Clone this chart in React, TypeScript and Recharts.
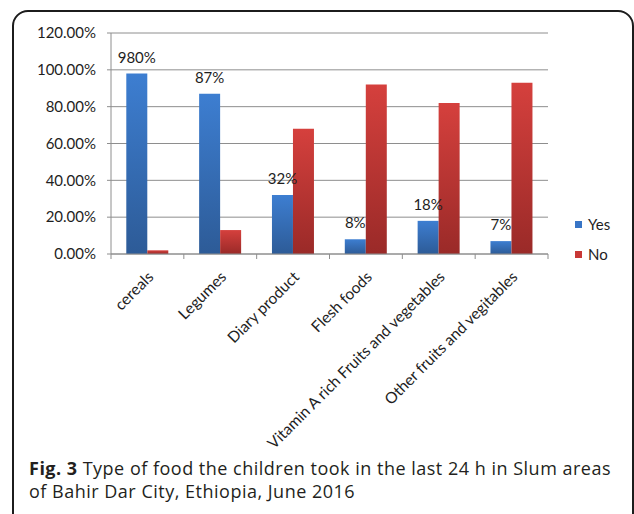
import React from 'react';
import { BarChart, Bar, XAxis, YAxis, CartesianGrid, LabelList } from 'recharts';

// food groups and share of children (%) who took them in the last 24 h
const categories = [
  'cereals',
  'Legumes',
  'Diary product',
  'Flesh foods',
  'Vitamin A rich Fruits and vegetables',
  'Other fruits and vegitables',
];
const yesValues = [98, 87, 32, 8, 18, 7];
const noValues = [2, 13, 68, 92, 82, 93];
// labels as printed in the figure (the first one really reads 980%)
const yesLabels = ['980%', '87%', '32%', '8%', '18%', '7%'];
const yTicks = [0, 20, 40, 60, 80, 100, 120];

const legendItems = [
  { name: 'Yes', color: '#3875C6' },
  { name: 'No', color: '#C83836' },
];

const captionLines = [
  'Type of food the children took in the last 24 h in Slum areas',
  'of Bahir Dar City, Ethiopia, June 2016',
];

const data = categories.map((name, i) => ({
  name,
  yes: yesValues[i],
  no: noValues[i],
  yesLabel: yesLabels[i],
}));

const FONT = 'Lato, "Open Sans", sans-serif';
const AXIS_GREY = '#8e8e8e';

const CategoryTick = (props: any) => {
  const { x, y, payload, index, visibleTicksCount } = props;
  const half = payload.offset || 36.4;
  const axisY = y - 8;
  const lx = x + 7;
  const ly = axisY + 24;
  return (
    <g>
      <line x1={payload.coordinate - half} x2={payload.coordinate - half} y1={axisY} y2={axisY + 5} stroke={AXIS_GREY} />
      {index === visibleTicksCount - 1 && (
        <line x1={payload.coordinate + half} x2={payload.coordinate + half} y1={axisY} y2={axisY + 5} stroke={AXIS_GREY} />
      )}
      <text
        x={lx}
        y={ly}
        transform={`rotate(-45 ${lx} ${ly})`}
        textAnchor="end"
        fontSize={15.5}
        fontFamily={FONT}
        fill="#1e1e1e"
      >
        {payload.value}
      </text>
    </g>
  );
};

export default function App() {
  return (
    <div style={{ position: 'absolute', left: 0, top: 0, width: 634, height: 514, overflow: 'hidden', background: '#fff', fontFamily: FONT }}>
      <div
        style={{
          position: 'absolute',
          left: 12,
          top: 10,
          width: 622,
          height: 600,
          boxSizing: 'border-box',
          border: '2px solid #1c1c1c',
          borderRadius: 16,
        }}
      />
      <div style={{ position: 'absolute', left: 0, top: 0 }}>
        <BarChart
          width={634}
          height={470}
          data={data}
          margin={{ top: 33, right: 86, left: 0, bottom: 16 }}
          barCategoryGap="21%"
          barGap={0}
        >
          <defs>
            <linearGradient id="yesFill" x1="0" y1="0" x2="0" y2="1">
              <stop offset="0%" stopColor="#3D7ED1" />
              <stop offset="100%" stopColor="#2D5B97" />
            </linearGradient>
            <linearGradient id="noFill" x1="0" y1="0" x2="0" y2="1">
              <stop offset="0%" stopColor="#D5403D" />
              <stop offset="100%" stopColor="#9A2A28" />
            </linearGradient>
          </defs>
          <CartesianGrid vertical={false} stroke={AXIS_GREY} />
          <XAxis
            dataKey="name"
            interval={0}
            height={200}
            tickLine={false}
            tickSize={5}
            tickMargin={3}
            axisLine={{ stroke: AXIS_GREY }}
            tick={<CategoryTick />}
          />
          <YAxis
            width={111}
            domain={[0, 120]}
            ticks={yTicks}
            interval={0}
            tickSize={4}
            tickMargin={11}
            axisLine={{ stroke: AXIS_GREY }}
            tickLine={{ stroke: AXIS_GREY }}
            tick={{ fontSize: 15, fill: '#1e1e1e', fontFamily: FONT }}
            tickFormatter={(v: number) => `${v.toFixed(2)}%`}
          />
          <Bar dataKey="yes" name="Yes" fill="url(#yesFill)" isAnimationActive={false}>
            <LabelList dataKey="yesLabel" position="top" offset={11} fontSize={15} fill="#1e1e1e" fontFamily={FONT} />
          </Bar>
          <Bar dataKey="no" name="No" fill="url(#noFill)" isAnimationActive={false} />
        </BarChart>
      </div>
      <div style={{ position: 'absolute', left: 575, top: 214 }}>
        {legendItems.map((item) => (
          <div key={item.name} style={{ display: 'flex', alignItems: 'center', height: 20, marginBottom: 10, fontSize: 15, color: '#1e1e1e' }}>
            <span style={{ display: 'inline-block', width: 7, height: 7, background: item.color, marginRight: 6 }} />
            {item.name}
          </div>
        ))}
      </div>
      <div
        style={{
          position: 'absolute',
          left: 29,
          top: 457,
          width: 605,
          fontFamily: '"Open Sans", sans-serif',
          fontSize: 18,
          lineHeight: '23px',
          letterSpacing: 0.5,
          color: '#231f20',
          whiteSpace: 'nowrap',
        }}
      >
        <div>
          <b style={{ marginRight: 5 }}>Fig. 3</b>
          {captionLines[0]}
        </div>
        <div>{captionLines[1]}</div>
      </div>
    </div>
  );
}
